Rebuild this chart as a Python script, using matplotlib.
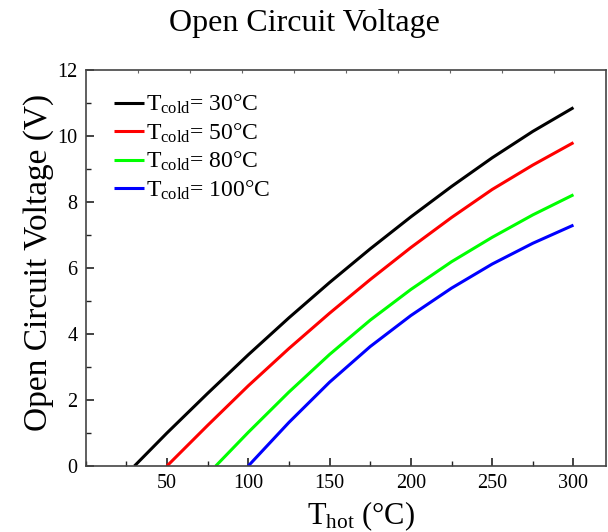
import numpy as np
import matplotlib
matplotlib.use("Agg")
import matplotlib.pyplot as plt
from matplotlib.ticker import MultipleLocator

plt.rcParams['font.family'] = ['Liberation Serif', 'DejaVu Serif']
plt.rcParams['mathtext.fontset'] = 'custom'
plt.rcParams['mathtext.rm'] = 'Liberation Serif'
plt.rcParams['mathtext.it'] = 'Liberation Serif:italic'

# ---- data ----
t_cold_labels = ["30", "50", "80", "100"]
colors = ["#000000", "#ff0000", "#00ff00", "#0000ff"]

t_hot_30 = [30, 50, 75, 100, 125, 150, 175, 200, 225, 250, 275, 300]
voc_30 = [0.0, 1.00, 2.20, 3.37, 4.49, 5.56, 6.58, 7.55, 8.47, 9.34, 10.14, 10.86]

t_hot_50 = [50, 75, 100, 125, 150, 175, 200, 225, 250, 275, 300]
voc_50 = [0.0, 1.23, 2.43, 3.56, 4.63, 5.65, 6.62, 7.53, 8.38, 9.12, 9.80]

t_hot_80 = [80, 100, 125, 150, 175, 200, 225, 250, 275, 300]
voc_80 = [0.0, 1.02, 2.24, 3.38, 4.42, 5.35, 6.19, 6.93, 7.61, 8.22]

t_hot_100 = [100, 125, 150, 175, 200, 225, 250, 275, 300]
voc_100 = [0.0, 1.32, 2.54, 3.62, 4.56, 5.39, 6.12, 6.75, 7.30]

series = [(t_hot_30, voc_30), (t_hot_50, voc_50), (t_hot_80, voc_80), (t_hot_100, voc_100)]

x_major = [50, 100, 150, 200, 250, 300]
y_major = [0, 2, 4, 6, 8, 10, 12]

fig = plt.figure(figsize=(6.08, 5.32), dpi=100)
ax = fig.add_axes([0.1408, 0.124, 0.8559, 0.7444])

for (x, y), c, lab in zip(series, colors, t_cold_labels):
    ax.plot(x, y, color=c, lw=2.2, solid_capstyle='butt', solid_joinstyle='round',
            label=r'$\mathregular{T_{cold}}$= ' + lab + '°C')

ax.set_xlim(0, 320)
ax.set_ylim(0, 12)
ax.set_xticks(x_major)
ax.set_yticks(y_major)
ax.xaxis.set_minor_locator(MultipleLocator(25))
ax.yaxis.set_minor_locator(MultipleLocator(1))
ax.tick_params(which='both', direction='in', top=False, right=False, labelsize=14.5, colors='#222222')
ax.tick_params(which='major', length=6, width=1.2, pad=6)
ax.tick_params(which='minor', length=3.5, width=1.0)
for lbl in ax.get_xticklabels() + ax.get_yticklabels():
    lbl.set_color('black')

for sp in ax.spines.values():
    sp.set_linewidth(1.2)
    sp.set_color('#444444')

top = ax.secondary_xaxis('top')
top.set_xticks(np.arange(32, 320, 32))
top.tick_params(direction='in', length=2, width=0.8, labeltop=False, colors='#666666')
top.spines['top'].set_visible(False)

fig.text(0.5, 0.955, 'Open Circuit Voltage', fontsize=23, ha='center', va='center')
ax.set_xlabel(r'$\mathregular{T_{hot}}$ (°C)', fontsize=22)
ax.xaxis.set_label_coords(0.53, -0.085)
ax.set_ylabel('Open Circuit Voltage (V)', fontsize=24)
ax.yaxis.set_label_coords(-0.06, 0.515)

leg = ax.legend(loc='upper left', bbox_to_anchor=(0.028, 0.978), frameon=False,
                fontsize=17, handlelength=1.25, handletextpad=0.1,
                labelspacing=0.22, borderaxespad=0.2)

fig.savefig('out.png', dpi=100)
